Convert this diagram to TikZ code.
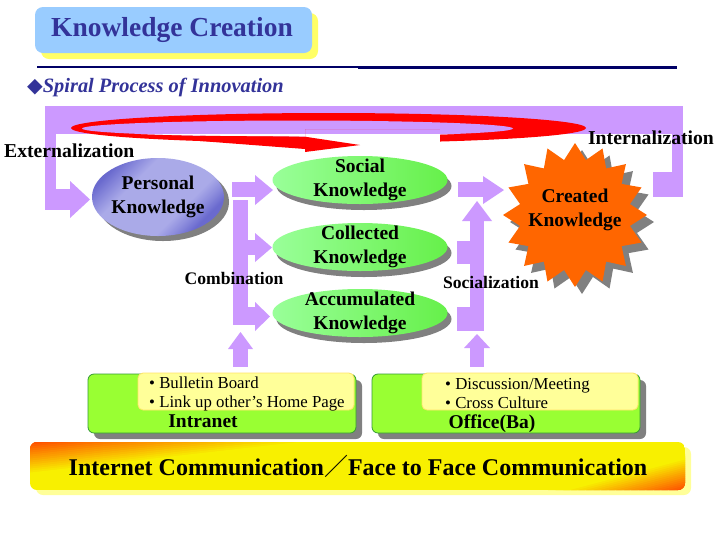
\documentclass[tikz,border=0pt]{standalone}
\usepackage{fontspec}
\setmainfont{Liberation Serif}
\newfontfamily\symfont{DejaVu Sans}
\newfontfamily\cjkfont{Noto Sans CJK JP}
\usetikzlibrary{shapes.geometric}
\definecolor{purp}{HTML}{CC99FF}
\definecolor{ttlblue}{HTML}{99CCFF}
\definecolor{ttlshadow}{HTML}{FFFF66}
\definecolor{navy}{HTML}{000066}
\definecolor{ink}{HTML}{333399}
\definecolor{shadowgray}{HTML}{808080}
\definecolor{starorange}{HTML}{FF6600}
\definecolor{lime}{HTML}{99FF33}
\definecolor{dgreen}{HTML}{339933}
\definecolor{paleyel}{HTML}{FFFF99}
\definecolor{yelline}{HTML}{FFE566}
\definecolor{bandred}{HTML}{FF4000}
\definecolor{bandyel}{HTML}{F8F000}
\definecolor{banshadow}{HTML}{FFFF99}
\definecolor{pkd}{HTML}{6A6ACE}
\definecolor{pkm}{HTML}{8A8ADC}
\definecolor{pkl}{HTML}{AAAAE8}
\definecolor{gl}{HTML}{99FF99}
\definecolor{gr}{HTML}{66F04A}
\pgfdeclarehorizontalshading{pkshade}{100bp}{color(0bp)=(pkd); color(25bp)=(pkd); color(31bp)=(pkm); color(37bp)=(pkl); color(62bp)=(pkl); color(68bp)=(pkm); color(73bp)=(pkd); color(100bp)=(pkd)}
\begin{document}
\begin{tikzpicture}[x=1pt,y=-1pt,
  lbl/.style={font=\fontsize{19.5}{24}\selectfont\bfseries, align=center, inner sep=0pt},
  sidelbl/.style={font=\fontsize{19.7}{24}\selectfont\bfseries, inner sep=0pt},
  midlbl/.style={font=\fontsize{17.6}{22}\selectfont\bfseries, inner sep=0pt},
  bullets/.style={font=\fontsize{16.8}{19}\selectfont, align=left, inner sep=0pt, anchor=west},
  greenell/.style={ellipse, minimum width=175pt, minimum height=48pt, inner sep=0pt, left color=gl, right color=gr},
  blk/.style={fill=purp}]
\useasboundingbox (0,0) rectangle (719,539);
\fill[white] (0,0) rectangle (719,539);

% title
\fill[ttlshadow, rounded corners=8pt] (41,13) rectangle (318,59);
\fill[ttlblue, rounded corners=8pt] (35,7) rectangle (312,53);
\node[font=\fontsize{27.5}{30}\selectfont\bfseries, text=ink, inner sep=0pt] (title) at (172,30) {Knowledge Creation};
\draw[navy, line width=2pt] (37,66.5) -- (358,66.5);
\draw[navy, line width=3pt] (358,67.5) -- (677,67.5);
\node[anchor=west, inner sep=0pt, text=ink, font=\fontsize{20.4}{23}\selectfont\bfseries\itshape] (spiral) at (27,87) {{\symfont ◆}Spiral Process of Innovation};

% purple loop (externalization / internalization)
\fill[blk] (45,106) rectangle (683,134);
\fill[blk] (45,106) rectangle (56,210);
\fill[blk] (45,189) rectangle (71,210);
\fill[blk] (70,181) -- (90,199.5) -- (70,218) -- cycle;
\fill[blk] (672,106) rectangle (683,197);
\fill[blk] (653,172) rectangle (683,197);

% red spiral
\begin{scope}
\clip (0,0) rectangle (719,129) (0,128) rectangle (305,170) (440,128) rectangle (719,170);
\fill[red] (328.5,128) ellipse [x radius=257.5, y radius=15];
\fill[purp] (297.5,128.5) ellipse [x radius=215.5, y radius=8];
\begin{scope}
\clip (0,134) rectangle (719,170);
\fill[white] (297.5,128.5) ellipse [x radius=215.5, y radius=8];
\end{scope}
\end{scope}
\fill[red] (200,135.8) -- (305,136.8) -- (305,149) -- (200,141) -- cycle;
\fill[red] (305,136.7) -- (360,145) -- (305,152) -- cycle;

\node[sidelbl, anchor=west] (ext) at (4,151) {Externalization};
\node[sidelbl] (int) at (651,138) {Internalization};

% personal knowledge
\fill[shadowgray] (163,202) ellipse [x radius=66, y radius=39];
\node[ellipse, minimum width=132pt, minimum height=78pt, inner sep=0pt, shading=pkshade, shading angle=-45] (personal) at (158,197) {};
\node[lbl] at (personal) {Personal\\Knowledge};

% green ellipses
\foreach \nm/\yy/\txt in {social/180/Social, collected/247/Collected, accum/313/Accumulated} {
  \fill[shadowgray] (364,\yy+6) ellipse [x radius=87.5, y radius=24];
  \node[greenell] (\nm) at (360,\yy) {};
  \node[lbl] at (\nm) {\txt\\Knowledge};
}

% combination arrows
\fill[blk] (232,182) rectangle (256,197);
\fill[blk] (255,175) -- (273,190) -- (255,205) -- cycle;
\fill[blk] (233,200) rectangle (248,325);
\fill[blk] (247,240) rectangle (256,255);
\fill[blk] (255,233) -- (272,247.5) -- (255,262) -- cycle;
\fill[blk] (247,307) rectangle (256,325);
\fill[blk] (255,302) -- (270,316.5) -- (255,331) -- cycle;
\fill[blk] (233,348) rectangle (248,367);
\fill[blk] (228,349) -- (240.5,332) -- (253,349) -- cycle;
\node[midlbl] (comb) at (234,278) {Combination};

% socialization arrows
\fill[blk] (458,182) rectangle (484,197);
\fill[blk] (483,176) -- (504,190) -- (483,204) -- cycle;
\fill[blk] (470,220) rectangle (484,331);
\fill[blk] (462,221) -- (477,201) -- (492,221) -- cycle;
\fill[blk] (457,241) rectangle (471,264);
\fill[blk] (457,307) rectangle (471,331);
\fill[blk] (470,347) rectangle (484,367);
\fill[blk] (464,348) -- (477,334) -- (490,348) -- cycle;
\node[midlbl] (soc) at (491,282) {Socialization};

% star
\fill[shadowgray] (582,150) \foreach \k [evaluate=\k as \r using {ifthenelse(mod(\k,2)==0,72,56)}] in {1,...,31} { -- ({582+\r*sin(\k*11.25)},{222-\r*cos(\k*11.25)}) } -- cycle;
\fill[starorange] (575,143) \foreach \k [evaluate=\k as \r using {ifthenelse(mod(\k,2)==0,72,56)}] in {1,...,31} { -- ({575+\r*sin(\k*11.25)},{215-\r*cos(\k*11.25)}) } -- cycle;
\node[lbl] (created) at (575,210) {Created\\Knowledge};

% bottom boxes
\fill[shadowgray, rounded corners=6pt] (94,380) rectangle (362,439);
\filldraw[fill=lime, draw=dgreen, line width=0.8pt, rounded corners=6pt] (88,374) rectangle (356,433);
\filldraw[fill=paleyel, draw=yelline, line width=0.8pt, rounded corners=5pt] (138,373) rectangle (354,410);
\node[bullets] (intb) at (149,393.5) {• Bulletin Board\\• Link up other’s Home Page};
\node[lbl] (intranet) at (203,421.5) {Intranet};

\fill[shadowgray, rounded corners=6pt] (378,380) rectangle (646,439);
\filldraw[fill=lime, draw=dgreen, line width=0.8pt, rounded corners=6pt] (372,374) rectangle (640,433);
\filldraw[fill=paleyel, draw=yelline, line width=0.8pt, rounded corners=5pt] (422,373) rectangle (638,410);
\node[bullets] (offb) at (445,394) {• Discussion/Meeting\\• Cross Culture};
\node[lbl] (office) at (492,423.5) {Office(Ba)};

% banner
\fill[banshadow, rounded corners=7pt] (36,447) rectangle (691,495);
\begin{scope}
\clip[rounded corners=7pt] (30,442) rectangle (685,490);
\fill[bandyel] (30,442) rectangle (685,490);
\foreach \i in {0,...,17} {
  \pgfmathtruncatemacro{\p}{\i/17*100}
  \pgfmathsetmacro{\s}{445+2*\i}
  \fill[bandyel!\p!bandred] (20,{\s-2.28-3}) -- (700,{\s-79.8-3}) -- (700,{\s-77.3}) -- (20,{\s+0.2}) -- cycle;
}
\foreach \j in {0,...,17} {
  \pgfmathtruncatemacro{\p}{\j/17*100}
  \pgfmathsetmacro{\u}{672-2*\j}
  \fill[bandyel!\p!bandred] (300,{\u-79.5+3}) -- (700,{\u-185.5+3}) -- (700,{\u-185.5-2.5}) -- (300,{\u-79.5-2.5}) -- cycle;
}
\end{scope}
\node[font=\fontsize{24}{28}\selectfont\bfseries, inner sep=0pt] (banner) at (358,466) {Internet Communication{\cjkfont\mdseries ／}Face to Face Communication};
\end{tikzpicture}
\end{document}
